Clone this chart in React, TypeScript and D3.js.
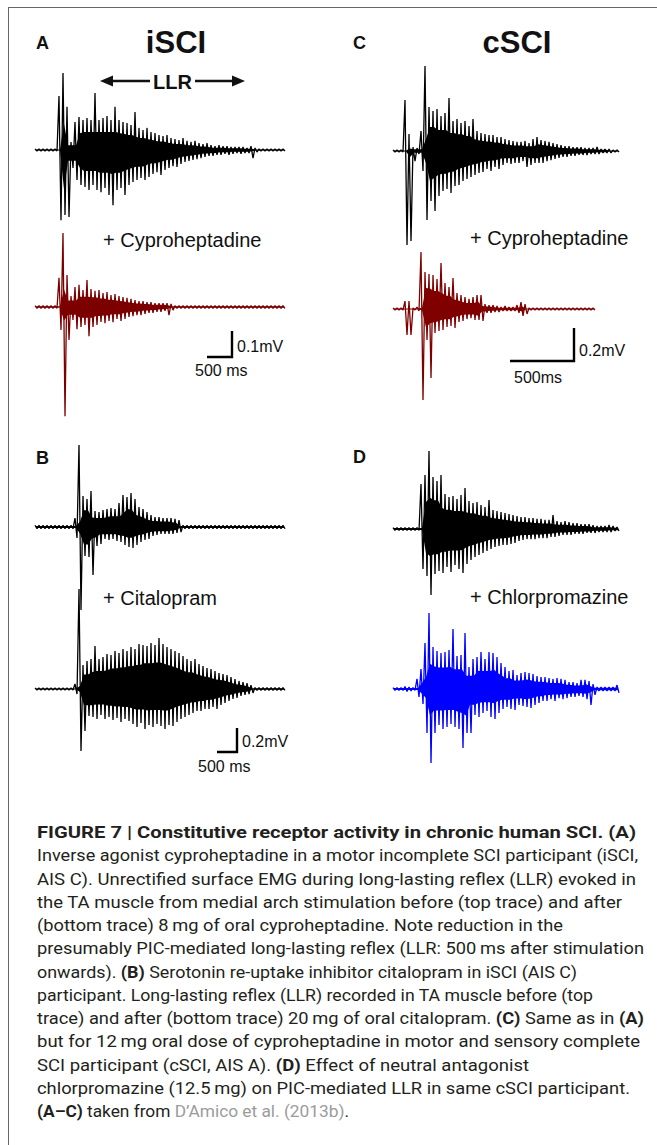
import React from "react";
import * as d3 from "d3";

// A: iSCI, before and after cyproheptadine (80 ms bins)
const aPreHi = [4,4,4,4,4,4,208,296,166,31,108,127,115,123,115,219,115,123,131,115,166,115,108,104,96,146,85,77,85,69,65,58,54,58,46,42,38,46,35,31,35,27,23,27,19,15,19,15,15,12,12,12,12,8,15,8,4,4,4,4,4,4,4];
const aPreLo = [4,4,4,4,4,4,270,250,258,69,115,135,142,154,135,154,162,146,173,212,154,146,173,135,123,115,108,115,104,92,85,96,77,69,62,65,54,46,42,38,35,31,27,23,23,19,19,15,19,15,12,15,12,12,31,8,4,4,4,4,4,4,4];
const aPostHi = [5,5,5,5,5,5,112,285,123,42,77,85,65,104,69,62,65,54,58,46,50,42,38,35,31,27,23,23,19,19,15,15,15,15,12,5,5,5,5,5,5,5,5,5,5,5,5,5,5,5,5,5,5,5,5,5,5,5,5,5,5,5,5];
const aPostLo = [5,5,5,5,5,5,88,420,127,50,85,77,69,112,77,69,58,62,54,58,46,54,46,38,35,31,31,27,23,23,19,19,15,31,12,5,5,5,5,5,5,5,5,5,5,5,5,5,5,5,5,5,5,5,5,5,5,5,5,5,5,5,5];

// B: iSCI, before and after citalopram (100 ms bins)
const bPreHi = [15,15,15,15,15,15,15,15,15,15,75,683,258,233,300,133,125,142,150,158,150,200,267,250,283,233,167,150,125,100,83,83,75,75,75,67,58,15,15,15,15,15,15,15,15,15,15,15,15,15,15,15,15,15,15,15,15,15,15,15,15,15,15];
const bPreLo = [15,15,15,15,15,15,15,15,15,15,92,692,242,250,400,158,142,100,108,100,117,125,150,167,175,150,125,108,100,75,67,58,58,58,58,50,42,15,15,15,15,15,15,15,15,15,15,15,15,15,15,15,15,15,15,15,15,15,15,15,15,15,15];
const bPostHi = [8,8,8,8,8,8,8,8,8,8,42,833,200,233,250,358,250,267,292,283,317,300,333,317,350,333,375,367,358,383,367,425,375,350,333,317,300,275,250,233,250,208,192,175,167,150,133,125,117,100,83,67,58,50,33,12,12,12,12,12,12,12,12];
const bPostLo = [8,8,8,8,8,8,8,8,8,8,42,517,350,225,233,250,217,250,233,258,242,275,250,267,292,317,283,333,300,317,292,308,333,300,308,275,250,233,217,200,183,183,167,167,150,167,133,117,100,83,75,58,50,42,33,12,12,12,12,12,12,12,12];

// C: cSCI, before and after cyproheptadine (31.25 ms bins)
const cPreHi = [6,6,6,309,103,24,18,121,515,267,242,255,212,230,321,182,194,170,182,152,194,121,109,103,97,97,85,85,73,67,61,55,55,61,48,73,85,67,61,55,48,42,36,30,30,24,24,24,18,18,18,24,12,12,12,6,6];
const cPreLo = [6,6,6,570,545,61,18,121,418,303,364,273,242,230,255,212,206,182,170,158,145,133,127,109,121,97,109,85,73,79,73,73,61,97,85,73,73,73,61,55,48,42,36,36,30,30,24,24,24,18,18,18,12,12,12,6,6];
const cPostHi = [6,6,6,48,48,6,12,345,224,212,206,182,279,158,133,188,97,85,73,61,73,85,85,30,24,24,18,12,18,12,12,24,42,30,6,6,6,6,6,6,6,6,6,6,6,6,6,6,6,6,6];
const cPostLo = [6,6,6,158,158,6,12,552,188,418,145,133,127,109,103,115,79,73,61,55,67,67,73,24,24,18,18,12,12,12,12,24,42,30,6,6,6,6,6,6,6,6,6,6,6,6,6,6,6,6,6];

// D: cSCI, before and after chlorpromazine (31.25 ms bins)
const dPreHi = [9,9,9,9,9,9,9,273,327,473,315,291,327,212,194,200,182,206,248,170,158,164,145,133,176,115,109,103,97,91,85,79,73,73,67,67,61,61,55,55,85,48,42,48,42,36,36,30,30,30,24,18,18,18,24,18,12];
const dPreLo = [9,9,9,9,9,9,9,242,285,400,273,255,267,230,261,218,242,267,212,188,170,158,145,133,121,109,103,97,97,91,85,73,67,61,61,61,55,55,55,48,48,42,36,36,36,30,30,30,24,24,24,18,18,18,18,12,12];
const dPostHi = [9,9,9,15,12,9,61,121,279,461,255,230,218,224,236,364,200,206,339,133,182,194,224,182,224,218,194,158,133,109,115,85,97,103,97,91,79,73,73,67,61,67,61,55,42,42,36,55,55,48,30,12,12,12,12,12,24];
const dPostLo = [9,9,9,15,12,9,48,91,267,448,267,218,242,230,212,230,242,358,267,267,158,170,145,133,170,182,145,121,109,121,127,97,103,109,115,97,85,73,73,61,73,55,61,55,48,48,42,48,61,97,36,12,12,12,12,12,24];

const drugLabels = ["+ Cyproheptadine", "+ Citalopram", "+ Cyproheptadine", "+ Chlorpromazine"];

const captionLines = [
  [["FIGURE 7 | Constitutive receptor activity in chronic human SCI. (A)", "b"]],
  [["Inverse agonist cyproheptadine in a motor incomplete SCI participant (iSCI,", ""]],
  [["AIS C). Unrectified surface EMG during long-lasting reflex (LLR) evoked in", ""]],
  [["the TA muscle from medial arch stimulation before (top trace) and after", ""]],
  [["(bottom trace) 8\u2009mg of oral cyproheptadine. Note reduction in the", ""]],
  [["presumably PIC-mediated long-lasting reflex (LLR: 500\u2009ms after stimulation", ""]],
  [["onwards). ", ""], ["(B)", "b"], [" Serotonin re-uptake inhibitor citalopram in iSCI (AIS C)", ""]],
  [["participant. Long-lasting reflex (LLR) recorded in TA muscle before (top", ""]],
  [["trace) and after (bottom trace) 20\u2009mg of oral citalopram. ", ""], ["(C)", "b"], [" Same as in ", ""], ["(A)", "b"]],
  [["but for 12\u2009mg oral dose of cyproheptadine in motor and sensory complete", ""]],
  [["SCI participant (cSCI, AIS A). ", ""], ["(D)", "b"], [" Effect of neutral antagonist", ""]],
  [["chlorpromazine (12.5\u2009mg) on PIC-mediated LLR in same cSCI participant.", ""]],
  [["(A\u2013C)", "b"], [" taken from ", ""], ["D\u2019Amico et al. (2013b)", "g"], [".", ""]],
];
const captionEnds = [636, 638, 636, 622, 563, 644, 577, 593, 644, 640, 529, 630, 349];

const W = 657;
const H = 1145;
const SANS = "'Liberation Sans', Arial, Helvetica, sans-serif";

const xA = d3.scaleLinear().domain([0, 5040]).range([35, 287]);
const xB = d3.scaleLinear().domain([0, 6300]).range([35, 287]);
const xC = d3.scaleLinear().domain([0, 1760]).range([393, 618.3]);
// px per 100 µV in each panel (from the scale bars)
const yAt = (base, per100) => d3.scaleLinear().domain([0, 100]).range([base, base - per100]);

const traces = [
  { hi: aPreHi, lo: aPreLo, step: 80, x: xA, y: yAt(150, 26), color: "#000" },
  { hi: aPostHi, lo: aPostLo, step: 80, x: xA, y: yAt(307, 26), color: "#7d0000" },
  { hi: bPreHi, lo: bPreLo, step: 100, x: xB, y: yAt(527, 12), color: "#000" },
  { hi: bPostHi, lo: bPostLo, step: 100, x: xB, y: yAt(689, 12), color: "#000" },
  { hi: cPreHi, lo: cPreLo, step: 31.25, x: xC, y: yAt(151, 16.5), color: "#000" },
  { hi: cPostHi, lo: cPostLo, step: 31.25, x: xC, y: yAt(309, 16.5), color: "#800000" },
  { hi: dPreHi, lo: dPreLo, step: 31.25, x: xC, y: yAt(529, 16.5), color: "#000" },
  { hi: dPostHi, lo: dPostLo, step: 31.25, x: xC, y: yAt(689, 16.5), color: "#0000ff" },
];

const scaleBars = [
  { x: xA, y: yAt(357, 26), cx: 232, cy: 357, uv: 100, mv: "0.1mV", ms: "500 ms", msX: 195, msY: 376 },
  { x: xC, y: yAt(361, 16.5), cx: 574, cy: 361, uv: 200, mv: "0.2mV", ms: "500ms", msX: 514, msY: 383 },
  { x: xB, y: yAt(752, 12), cx: 237, cy: 752, uv: 200, mv: "0.2mV", ms: "500 ms", msX: 198, msY: 772 },
];

// smaller of a bin and its neighbours: the dense core that the spikes stand out of
const core = (arr, i) => Math.min(arr[i], arr[i - 1] ?? arr[i], arr[i + 1] ?? arr[i]);

const Trace = ({ t }) => {
  const pts = t.hi.flatMap((h, i) => [
    [i * t.step, h],
    [i * t.step + t.step / 2, -t.lo[i]],
  ]);
  const line = d3
    .line()
    .x((d) => t.x(d[0]))
    .y((d) => t.y(d[1]));
  const area = d3
    .area()
    .x((d, i) => t.x(i * t.step + t.step / 4))
    .y0((d, i) => t.y(-core(t.lo, i) * 0.6))
    .y1((d, i) => t.y(core(t.hi, i) * 0.6));
  return (
    <g>
      <path d={area(t.hi)} fill={t.color} />
      <path d={line(pts)} fill="none" stroke={t.color} strokeWidth={1.3} strokeLinejoin="bevel" />
    </g>
  );
};

export default function App() {
  return (
    <svg width={W} height={H} style={{ position: "absolute", left: 0, top: 0, background: "#fff" }}>
      <rect x={8.5} y={7.5} width={700} height={1200} fill="#fff" stroke="#666" strokeWidth={1} />

      <g fontFamily={SANS} fill="#111">
        {[["A", 36, 49], ["C", 353, 49], ["B", 36, 464], ["D", 353, 463]].map(([l, x, y]) => (
          <text key={l} x={x} y={y} fontSize={18} fontWeight="bold">{l}</text>
        ))}
        <text x={176} y={53} fontSize={31} fontWeight="bold" textAnchor="middle">iSCI</text>
        <text x={517} y={53} fontSize={31} fontWeight="bold" textAnchor="middle">cSCI</text>

        {/* LLR arrow */}
        <line x1={110} x2={150} y1={81} y2={81} stroke="#111" strokeWidth={2.6} />
        <line x1={195} x2={235} y1={81} y2={81} stroke="#111" strokeWidth={2.6} />
        <polygon points="100,81 113,75.5 113,86.5" fill="#111" />
        <polygon points="245,81 232,75.5 232,86.5" fill="#111" />
        <text x={172.5} y={89} fontSize={20} fontWeight="bold" textAnchor="middle">LLR</text>

        <text x={103} y={247} fontSize={20}>{drugLabels[0]}</text>
        <text x={103} y={605} fontSize={20}>{drugLabels[1]}</text>
        <text x={470} y={245} fontSize={20}>{drugLabels[2]}</text>
        <text x={470} y={604} fontSize={20}>{drugLabels[3]}</text>
      </g>

      {traces.map((t, i) => (
        <Trace key={i} t={t} />
      ))}

      {scaleBars.map((s, i) => {
        const hLen = s.x(500) - s.x(0);
        const vLen = s.y(0) - s.y(s.uv);
        return (
          <g key={i} fontFamily={SANS} fontSize={16} fill="#111">
            <path
              d={`M${s.cx - hLen},${s.cy}H${s.cx}V${s.cy - vLen}`}
              fill="none"
              stroke="#000"
              strokeWidth={2.4}
            />
            <text x={s.cx + 5} y={s.cy - 5}>{s.mv}</text>
            <text x={s.msX} y={s.msY}>{s.ms}</text>
          </g>
        );
      })}

      <g fontFamily="Roboto, 'Noto Sans', sans-serif" fontSize={16} fill="#231f20">
        {captionLines.map((segs, i) => (
          <text
            key={i}
            x={37}
            y={838 + i * 23.25}
            textLength={captionEnds[i] - 37}
            lengthAdjust="spacingAndGlyphs"
            style={{ whiteSpace: "pre" }}
          >
            {segs.map(([txt, st], j) => (
              <tspan
                key={j}
                fontWeight={st === "b" ? "bold" : "normal"}
                fill={st === "g" ? "#9b9b9b" : "#231f20"}
              >
                {txt}
              </tspan>
            ))}
          </text>
        ))}
      </g>
    </svg>
  );
}
